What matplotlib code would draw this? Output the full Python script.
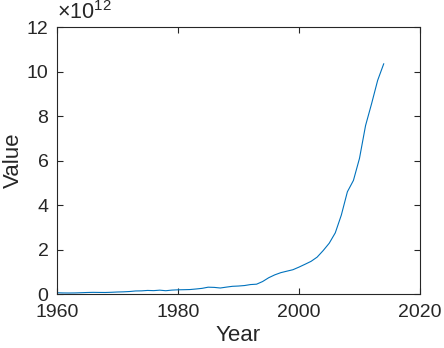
import numpy as np
import matplotlib.pyplot as plt
from matplotlib.ticker import FuncFormatter

plt.rcParams['font.family'] = ['Liberation Sans', 'DejaVu Sans']
plt.rcParams['mathtext.fontset'] = 'custom'
plt.rcParams['mathtext.rm'] = 'Liberation Sans'

years = np.arange(1960, 2015)
values = np.array([
    5.97e10, 5.00e10, 4.72e10, 5.07e10, 5.97e10, 7.04e10, 7.67e10, 7.29e10, 7.09e10, 7.97e10,
    9.26e10, 9.98e10, 1.14e11, 1.39e11, 1.44e11, 1.63e11, 1.54e11, 1.75e11, 1.50e11, 1.78e11,
    1.91e11, 1.96e11, 2.03e11, 2.28e11, 2.57e11, 3.09e11, 3.00e11, 2.72e11, 3.12e11, 3.48e11,
    3.61e11, 3.83e11, 4.27e11, 4.44e11, 5.64e11, 7.34e11, 8.63e11, 9.62e11, 1.029e12, 1.094e12,
    1.211e12, 1.339e12, 1.471e12, 1.660e12, 1.955e12, 2.286e12, 2.752e12, 3.552e12, 4.598e12, 5.110e12,
    6.101e12, 7.573e12, 8.561e12, 9.607e12, 1.035e13,
])

ink = "#262626"
fig = plt.figure(figsize=(4.44, 3.48), dpi=100)
ax = fig.add_axes([0.128, 0.155, 0.818, 0.767])
ax.plot(years, values, color="#0072BD", linewidth=0.8)

ax.set_xlim(1960, 2020)
ax.set_ylim(0, 12e12)
ax.set_xticks([1960, 1980, 2000, 2020])
ax.set_yticks(np.arange(0, 13e12, 2e12))
ax.yaxis.set_major_formatter(FuncFormatter(lambda v, p: "%g" % (v / 1e12)))
ax.tick_params(direction="in", top=True, right=True, length=4, width=0.8,
               labelsize=14, colors=ink)
ax.tick_params(axis="x", pad=7)
ax.tick_params(axis="y", pad=6)
for s in ax.spines.values():
    s.set_color(ink)
    s.set_linewidth(0.8)
ax.set_xlabel("Year", fontsize=16, color=ink, labelpad=3)
ax.set_ylabel("Value", fontsize=16, color=ink, labelpad=2)
ax.text(0.0, 1.01, r"$\times10^{12}$", transform=ax.transAxes, fontsize=15.5,
        color=ink, ha="left", va="bottom")

fig.savefig("out.png", dpi=100)
